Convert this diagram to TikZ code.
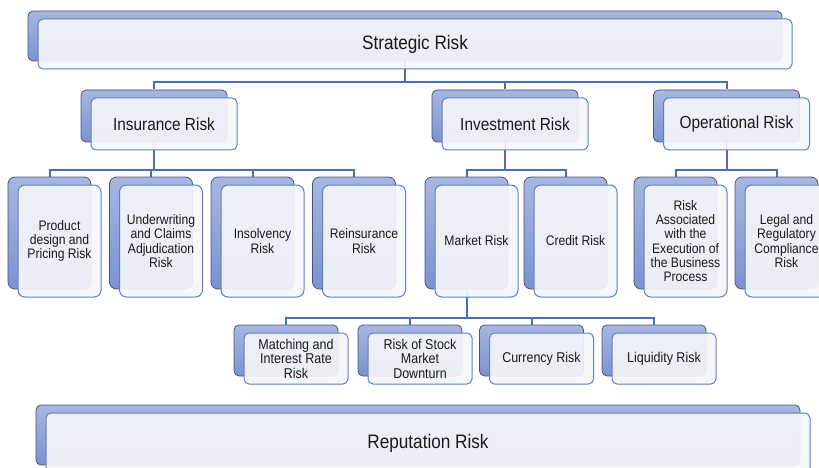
\documentclass[tikz,border=0pt]{standalone}
\usepackage{fontspec}
\setmainfont{Liberation Sans}[FakeStretch=0.88]
\usetikzlibrary{shadows, backgrounds}

\definecolor{cardfill}{HTML}{F5F6FB}
\definecolor{cardline}{HTML}{5A80C9}
\definecolor{backtop}{HTML}{A8B7E0}
\definecolor{backbot}{HTML}{7B92D0}
\definecolor{backline}{HTML}{4E5563}
\definecolor{linkline}{HTML}{4A6EB4}
\definecolor{textcol}{HTML}{1A1A1A}

\begin{document}
\begin{tikzpicture}[x=1pt, y=-1pt]
    % Define the style for the boxes
    \tikzset{
        card/.style={rectangle, rounded corners=5pt, draw=cardline, line width=1pt, fill=cardfill, fill opacity=0.92, text opacity=1, text=textcol, align=center, inner sep=0pt,
            copy shadow={shadow xshift=-10pt, shadow yshift=8pt, draw=backline, top color=backtop, bottom color=backbot, fill opacity=1, line width=0.8pt}},
        wide/.style={card, minimum width=754pt, minimum height=50pt, font=\fontsize{19.5}{22}\selectfont},
        group/.style={card, minimum width=146pt, minimum height=52pt, font=\fontsize{17.5}{20}\selectfont},
        leaf/.style={card, rounded corners=7pt, minimum width=83pt, minimum height=112pt, font=\fontsize{13.8}{14.3}\selectfont},
        subleaf/.style={card, minimum width=104pt, minimum height=51pt, font=\fontsize{14.2}{14.5}\selectfont},
        link/.style={draw=linkline, line width=2pt}
    }

    \useasboundingbox (0,0) rectangle (819,468);

    % Top and bottom bars
    \node[wide] (strategic) at (415,44) {Strategic Risk};
    \node[wide, minimum width=764pt, minimum height=60pt] (reputation) at (428,443) {Reputation Risk};

    % Main risk groups
    \node[group] (insurance) at (164,124) {Insurance Risk};
    \node[group] (investment) at (515,124) {Investment Risk};
    \node[group] (operational) at (736.5,124) {Operational Risk};

    % Sub risks
    \node[leaf] (product) at (59.5,241) {Product\\design and\\Pricing Risk};
    \node[leaf] (underwriting) at (161,241) {Underwriting\\and Claims\\Adjudication\\Risk};
    \node[leaf] (insolvency) at (262.5,241) {Insolvency\\Risk};
    \node[leaf] (reinsurance) at (364,241) {Reinsurance\\Risk};
    \node[leaf] (market) at (476.5,241) {Market Risk};
    \node[leaf] (credit) at (575.5,241) {Credit Risk};
    \node[leaf] (execution) at (685.5,241) {Risk\\Associated\\with the\\Execution of\\the Business\\Process};
    \node[leaf] (legal) at (786.5,241) {Legal and\\Regulatory\\Compliance\\Risk};

    % Market risk split
    \node[subleaf] (matching) at (296,358.5) {Matching and\\Interest Rate\\Risk};
    \node[subleaf] (stock) at (420,358.5) {Risk of Stock\\Market\\Downturn};
    \node[subleaf] (currency) at (541.5,358.5) {Currency Risk};
    \node[subleaf] (liquidity) at (664,358.5) {Liquidity Risk};

    % Draw the links behind the boxes
    \begin{scope}[on background layer]
        \foreach \parent/\child in {strategic/insurance, strategic/investment, strategic/operational,
            insurance/product, insurance/underwriting, insurance/insolvency, insurance/reinsurance,
            investment/market, investment/credit, operational/execution, operational/legal,
            market/matching, market/stock, market/currency, market/liquidity}
            \draw[link] ([shift={(-10pt,8pt)}]\parent.south) |- ([shift={(-10pt,15pt)}]\child.north) -- ([shift={(-10pt,8pt)}]\child.north);
    \end{scope}
\end{tikzpicture}
\end{document}
